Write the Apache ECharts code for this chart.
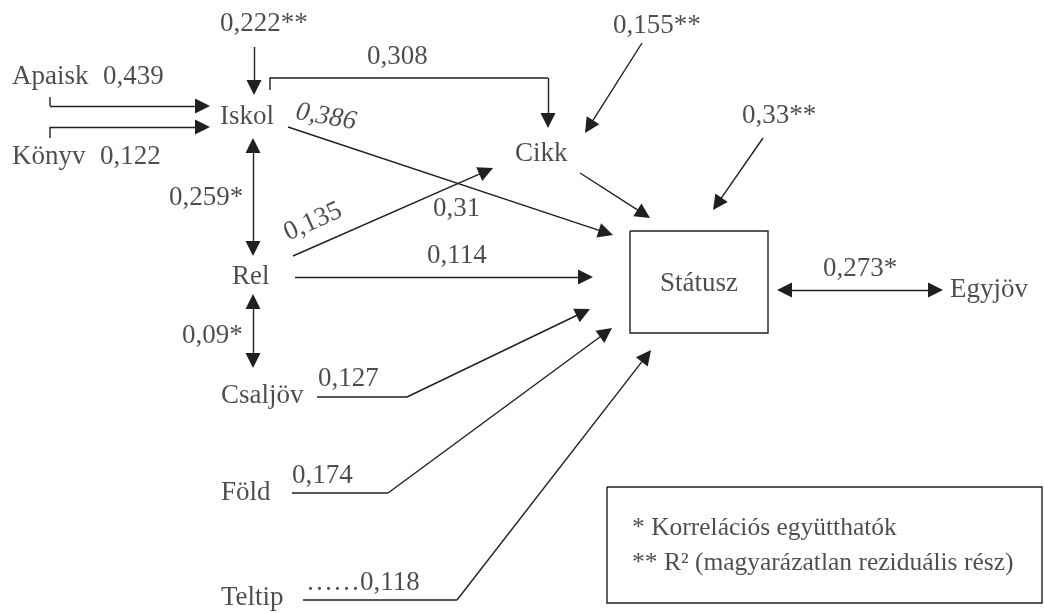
<!DOCTYPE html>
<html>
<head>
<meta charset="utf-8">
<script src="https://cdn.jsdelivr.net/npm/echarts@6/dist/echarts.min.js"></script>
<style>
  html, body { margin: 0; padding: 0; background: #fff; }
  #chart { width: 1044px; height: 613px; }
</style>
</head>
<body>
<div id="chart"></div>
<script>
// változók (nodes) of the path model
const nodeNames = ['Apaisk', 'Könyv', 'Iskol', 'Cikk', 'Rel', 'Csaljöv', 'Föld', 'Teltip', 'Státusz', 'Egyjöv'];
// left x / text baseline of each node name
const nodeAnchors = [[12, 87], [12, 167], [220, 127], [515, 164], [232, 287], [221, 406], [221, 503], [221, 608], [660, 294], [950, 300]];

// path coefficients
const coefLabels = ['0,439', '0,122', '0,222**', '0,308', '0,155**', '0,33**', '0,386', '0,259*', '0,135', '0,31', '0,114', '0,09*', '0,127', '0,174', '……0,118', '0,273*'];
const coefAnchors = [[103, 87], [100, 167], [220, 34], [367, 67], [613, 36], [742, 126], [326, 127], [169, 208], [313, 232], [433, 219], [427, 266], [182, 346], [318, 389], [292, 486], [306, 593], [823, 279]];

const legendLines = ['* Korrelációs együtthatók', '** R² (magyarázatlan reziduális rész)'];
const legendAnchors = [[632, 538], [632, 573]];

// arrows: points of each path, last point is the tip
const oneWayPaths = [
  [[254, 47], [254, 95]],                          // 0,222**
  [[50, 97], [50, 106], [210, 106]],               // Apaisk
  [[50, 138], [50, 127], [210, 127]],              // Könyv
  [[270, 90], [270, 78], [548, 78], [548, 128]],   // Iskol -> Cikk
  [[642, 43], [585, 133]],                         // 0,155**
  [[580, 173], [650, 218]],                        // Cikk -> Státusz
  [[763, 138], [713, 210]],                        // 0,33**
  [[288, 127], [613, 235]],                        // Iskol -> Státusz
  [[293, 256], [493, 168]],                        // Rel -> Cikk
  [[295, 277], [593, 277]],                        // Rel -> Státusz
  [[317, 397], [407, 397], [590, 309]],            // Csaljöv
  [[292, 493], [388, 493], [612, 328]],            // Föld
  [[303, 600], [457, 600], [651, 350]]             // Teltip
];
const twoWayPaths = [
  [[253, 138], [253, 256]],   // Iskol - Rel
  [[253, 294], [253, 368]],   // Rel - Csaljöv
  [[777, 290], [943, 290]]    // Státusz - Egyjöv
];
// boxes: [x1, y1, x2, y2]
const boxes = [[630, 231, 768, 333], [607, 487, 1042, 603]];

const INK = '#231f20';
const FONT = 'Liberation Serif';
const HEAD = 15; // arrow head size (same at both ends)

// move q back towards p so the arrow tip lands on q
const pullBack = (p, q, d) => {
  const dx = q[0] - p[0], dy = q[1] - p[1];
  const len = Math.hypot(dx, dy);
  return [q[0] - dx / len * d, q[1] - dy / len * d];
};

const bodies = [];
const heads = [];
oneWayPaths.forEach((pts) => {
  const n = pts.length;
  if (n > 2) bodies.push({ coords: pts.slice(0, n - 1) });
  heads.push({ coords: [pts[n - 2], pullBack(pts[n - 2], pts[n - 1], HEAD / 2)] });
});
const doubles = twoWayPaths.map((pts) => ({
  coords: [pullBack(pts[1], pts[0], HEAD / 2), pullBack(pts[0], pts[1], HEAD / 2)]
}));
boxes.forEach((b) => {
  bodies.push({ coords: [[b[0], b[1]], [b[2], b[1]], [b[2], b[3]], [b[0], b[3]], [b[0], b[1]]] });
});

const textItem = (txt, a, extra) => ({
  value: [a[0], a[1] - 10],
  label: Object.assign({ formatter: txt }, extra || {})
});
const texts = [];
nodeNames.forEach((t, i) => texts.push(textItem(t, nodeAnchors[i])));
coefLabels.forEach((t, i) => {
  let extra;
  if (t === '0,386') extra = { align: 'center', rotate: -10, fontStyle: 'italic' };
  if (t === '0,135') extra = { align: 'center', rotate: 24 };
  texts.push(textItem(t, coefAnchors[i], extra));
});
legendLines.forEach((t, i) => texts.push(textItem(t, legendAnchors[i], { fontSize: 25.5 })));

const lineStyle = { color: INK, width: 1.4, opacity: 1 };

const chart = echarts.init(document.getElementById('chart'));
chart.setOption({
  animation: false,
  backgroundColor: '#fff',
  grid: { left: 0, right: 0, top: 0, bottom: 0 },
  xAxis: { type: 'value', min: 0, max: 1044, show: false },
  yAxis: { type: 'value', min: 0, max: 613, inverse: true, show: false },
  series: [
    {
      type: 'lines',
      coordinateSystem: 'cartesian2d',
      polyline: true,
      silent: true,
      lineStyle: lineStyle,
      data: bodies
    },
    {
      type: 'lines',
      coordinateSystem: 'cartesian2d',
      silent: true,
      symbol: ['none', 'triangle'],
      symbolSize: HEAD,
      lineStyle: lineStyle,
      data: heads
    },
    {
      type: 'lines',
      coordinateSystem: 'cartesian2d',
      silent: true,
      symbol: ['triangle', 'triangle'],
      symbolSize: HEAD,
      lineStyle: lineStyle,
      data: doubles
    },
    {
      type: 'scatter',
      silent: true,
      clip: false,
      symbolSize: 0,
      label: {
        show: true,
        position: 'inside',
        align: 'left',
        verticalAlign: 'middle',
        color: INK,
        fontFamily: FONT,
        fontSize: 27
      },
      data: texts
    }
  ]
});
</script>
</body>
</html>
